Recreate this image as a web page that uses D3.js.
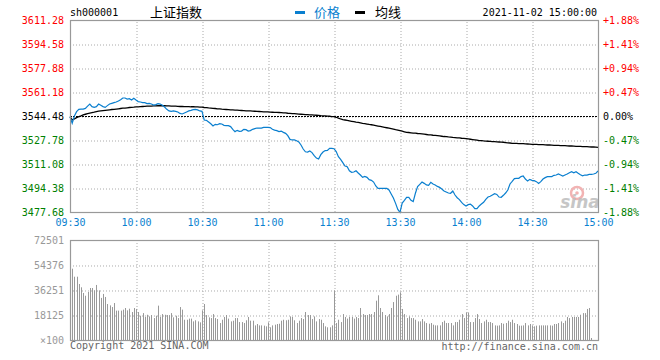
<!DOCTYPE html>
<html><head><meta charset="utf-8">
<script src="https://cdn.jsdelivr.net/npm/d3@7/dist/d3.min.js"></script>
<style>
html,body{margin:0;padding:0;background:#fff;}
svg{display:block;}
text{font-family:"DejaVu Sans Mono","Liberation Mono",monospace;font-size:10px;}
</style></head>
<body>
<svg id="c" width="660" height="360"></svg>
<script>
// ---------- DATA ----------
const code = "sh000001";
const title = "上证指数";
const legendNames = ["价格", "均线"];
const stamp = "2021-11-02 15:00:00";
const prevClose = 3544.48;
const priceTicks = [3477.68, 3494.38, 3511.08, 3527.78, 3544.48, 3561.18, 3577.88, 3594.58, 3611.28];
const pctTicks = ["-1.88%", "-1.41%", "-0.94%", "-0.47%", "0.00%", "+0.47%", "+0.94%", "+1.41%", "+1.88%"];
const timeLabels = ["09:30", "10:00", "10:30", "11:00", "11:30", "13:30", "14:00", "14:30", "15:00"];
const timeIdx = [0, 30, 60, 90, 120, 150, 180, 210, 240];
const volTicks = [0, 18125, 36251, 54376, 72501];
const volTickLabels = ["×100", "18125", "36251", "54376", "72501"];

// price per minute, 09:30 .. 11:30 (121 points)
const priceAM = [
3544.0,3539.4,3544.5,3547.5,3549.1,3549.3,3549.3,3549.8,3551.4,3552.8,
3551.0,3550.5,3551.0,3552.8,3551.9,3551.0,3550.5,3551.7,3552.8,3553.3,
3553.8,3554.2,3554.9,3555.8,3557.0,3557.0,3556.3,3556.5,3555.6,3556.8,
3555.6,3554.5,3554.2,3553.8,3553.8,3553.1,3553.3,3552.8,3552.1,3552.4,
3553.1,3552.8,3551.9,3550.7,3549.1,3548.0,3547.7,3548.0,3547.7,3547.3,
3546.3,3545.9,3546.6,3547.3,3548.0,3548.4,3548.9,3549.1,3548.7,3548.0,
3547.7,3541.7,3541.5,3540.3,3539.1,3537.5,3538.7,3538.4,3539.1,3538.9,
3538.0,3537.8,3537.8,3537.1,3535.2,3533.6,3534.5,3533.8,3534.0,3535.2,
3535.0,3534.0,3534.3,3535.2,3535.7,3536.1,3536.1,3536.1,3536.6,3536.6,
3536.6,3536.4,3535.2,3534.7,3534.3,3533.6,3534.0,3533.1,3532.4,3530.8,
3528.2,3527.8,3527.8,3527.3,3526.4,3524.3,3521.5,3519.6,3519.4,3520.1,
3519.0,3516.9,3515.2,3514.6,3517.6,3519.4,3520.4,3520.6,3522.0,3522.0,
3521.7];
// price per minute, 13:01 .. 15:00 (120 points)
const pricePM = [
3519.7,3516.2,3514.3,3512.0,3509.7,3509.2,3506.4,3505.3,3505.5,3506.4,
3504.8,3503.4,3501.8,3502.5,3501.8,3500.2,3499.7,3498.5,3495.8,3494.1,
3494.1,3494.1,3494.1,3494.1,3493.0,3490.2,3487.4,3483.7,3479.5,3477.4,
3483.9,3485.8,3487.9,3487.9,3485.8,3484.9,3490.7,3495.3,3496.9,3498.5,
3497.6,3496.5,3496.3,3498.3,3497.2,3496.5,3495.5,3494.8,3493.7,3492.3,
3491.6,3490.9,3490.7,3492.3,3489.5,3487.6,3486.3,3484.4,3482.8,3481.9,
3482.8,3483.2,3481.9,3480.0,3480.0,3481.9,3483.2,3484.4,3486.5,3488.1,
3488.6,3489.5,3490.4,3489.9,3488.1,3487.9,3489.3,3490.9,3493.0,3497.2,
3499.0,3500.9,3501.1,3501.1,3502.3,3502.7,3500.6,3499.2,3500.4,3499.7,
3499.5,3498.8,3497.6,3498.8,3500.6,3501.6,3502.3,3502.3,3502.3,3503.2,
3503.4,3504.1,3503.4,3502.7,3503.4,3504.1,3505.0,3505.7,3505.0,3505.7,
3504.6,3503.6,3502.9,3503.4,3503.4,3503.9,3503.9,3504.1,3504.6,3506.2];

// average price per minute
const avgAM = [
3544.0,3541.8,3542.5,3543.3,3544.0,3544.6,3545.3,3545.7,3546.1,3546.5,
3546.8,3547.1,3547.5,3547.8,3548.0,3548.2,3548.4,3548.6,3548.8,3549.0,
3549.1,3549.3,3549.5,3549.7,3549.9,3550.0,3550.2,3550.4,3550.5,3550.6,
3550.8,3550.9,3551.0,3551.1,3551.2,3551.3,3551.4,3551.4,3551.5,3551.5,
3551.6,3551.6,3551.6,3551.6,3551.5,3551.5,3551.4,3551.4,3551.3,3551.2,
3551.1,3551.1,3551.0,3551.0,3551.0,3550.9,3550.9,3550.8,3550.8,3550.7,
3550.6,3550.4,3550.3,3550.1,3550.0,3549.8,3549.7,3549.5,3549.4,3549.2,
3549.1,3549.0,3548.9,3548.8,3548.7,3548.6,3548.5,3548.4,3548.3,3548.2,
3548.1,3548.0,3548.0,3547.9,3547.8,3547.7,3547.6,3547.5,3547.4,3547.3,
3547.3,3547.2,3547.1,3547.0,3547.0,3546.9,3546.8,3546.7,3546.6,3546.4,
3546.3,3546.2,3546.1,3546.0,3545.8,3545.7,3545.6,3545.5,3545.4,3545.3,
3545.2,3545.1,3545.0,3544.9,3544.7,3544.6,3544.5,3544.4,3544.3,3544.1,
3544.0];
const avgPM = [
3543.6,3543.0,3542.4,3542.0,3541.7,3541.4,3541.1,3540.8,3540.5,3540.2,
3540.0,3539.7,3539.4,3539.2,3538.9,3538.6,3538.4,3538.1,3537.8,3537.5,
3537.2,3536.9,3536.6,3536.3,3536.0,3535.7,3535.4,3535.0,3534.7,3534.3,
3533.9,3533.5,3533.1,3533.0,3532.8,3532.6,3532.5,3532.3,3532.2,3532.0,
3531.8,3531.6,3531.4,3531.3,3531.1,3531.0,3530.8,3530.6,3530.4,3530.2,
3530.1,3529.9,3529.8,3529.6,3529.5,3529.3,3529.2,3529.0,3528.9,3528.7,
3528.5,3528.3,3528.1,3527.9,3527.7,3527.4,3527.3,3527.1,3527.0,3526.9,
3526.8,3526.7,3526.6,3526.5,3526.4,3526.3,3526.2,3526.0,3525.8,3525.7,
3525.5,3525.5,3525.4,3525.3,3525.3,3525.2,3525.1,3525.0,3524.9,3524.8,
3524.8,3524.7,3524.6,3524.5,3524.5,3524.4,3524.3,3524.3,3524.2,3524.1,
3524.0,3524.0,3523.9,3523.8,3523.8,3523.7,3523.6,3523.6,3523.5,3523.4,
3523.4,3523.3,3523.2,3523.2,3523.1,3523.0,3522.9,3522.9,3522.8,3522.7];

// volume per minute (x100)
const volAM = [
72501,51700,45900,45900,40600,38200,34100,32100,34800,37700,
37700,36000,39900,36000,30500,33400,31200,26100,25100,23900,
26800,21300,21300,21300,22000,23200,21500,22700,20300,23200,
22500,20300,17600,19500,16700,18300,17100,18100,15900,17600,
24900,16700,18800,18300,18100,18000,19500,16400,17600,15900,
23900,22000,14700,14700,15500,15500,13500,14300,13500,12800,
21500,26100,18100,16400,15900,18800,15900,15200,12300,14700,
16700,18100,15500,13500,14000,15900,15900,13000,13000,12300,
14300,16700,14000,14000,10600,11600,10600,10600,10400,9900,
12800,9200,10600,11100,11600,11800,14000,14700,14300,14700,
17100,16700,14300,12300,14000,15900,15200,20300,18100,18100,
15200,17100,13500,15200,14700,12300,9900,9200,9200,10600,
36000];
const volPM = [
12300,14700,13000,18800,16700,15500,16700,16700,15500,16700,
15900,23200,18800,18100,18100,18800,18800,20300,28500,32400,
23200,20300,18100,17100,18800,23200,27500,32100,32900,34600,
22500,18800,15900,17100,15900,15900,14700,13500,13500,15200,
13500,12300,11800,12300,11100,10600,10600,10600,13000,14000,
12300,12300,12300,10600,13000,13000,14700,18800,15900,20000,
20000,13000,13000,15900,18800,15200,12300,13500,14700,13000,
13000,12300,10600,10400,10600,12300,11800,12300,14000,13000,
14700,12300,11600,10400,10400,10600,12300,10600,11600,10600,
9900,10400,10600,10600,10600,10600,10600,10600,10400,11600,
11600,12300,13500,12300,14000,16700,15900,16700,16700,16700,
16700,18300,19500,19500,22500,23200,1450,0,0,0];

// ---------- DRAW ----------
const price = priceAM.concat(pricePM);
const avg = avgAM.concat(avgPM);
const vol = volAM.concat(volPM);
const idx = d3.range(price.length);

const L = 70, R = 598, T = 20, B = 212, VT = 240, VB = 340;
const svg = d3.select("#c");
const x = d3.scaleLinear().domain([0, 240]).range([L, R]);
const y = d3.scaleLinear().domain([priceTicks[0], priceTicks[priceTicks.length - 1]]).range([B, T]);
const yv = d3.scaleLinear().domain([0, volTicks[volTicks.length - 1]]).range([VB, VT]);

const gridCol = "#aaaaaa", borderCol = "#999999";
const blue = "#0a7fcf";
const crisp = v => Math.round(v) + 0.5;

function labelColor(v) {
  if (Math.abs(v - prevClose) < 0.01) return "#000";
  return v > prevClose ? "#ff0000" : "#008000";
}

// grid lines – main
const gMain = svg.append("g");
gMain.append("g").attr("transform", `translate(${L},0)`)
  .call(d3.axisLeft(y).tickValues(priceTicks.slice(1, -1)).tickSize(-(R - L)).tickFormat(""))
  .call(g => g.select(".domain").remove())
  .call(g => g.selectAll("line").attr("stroke", gridCol).attr("stroke-dasharray", "1,2")
     .attr("transform", "translate(0,0.5)"));
gMain.append("g").attr("transform", `translate(0,${B})`)
  .call(d3.axisBottom(x).tickValues(timeIdx.slice(1, -1)).tickSize(-(B - T)).tickFormat(""))
  .call(g => g.select(".domain").remove())
  .call(g => g.selectAll("line").attr("stroke", gridCol).attr("stroke-dasharray", "1,2")
     .attr("transform", "translate(0.5,0)"));

// grid lines – volume
const gVol = svg.append("g");
gVol.append("g").attr("transform", `translate(${L},0)`)
  .call(d3.axisLeft(yv).tickValues(volTicks.slice(1, -1)).tickSize(-(R - L)).tickFormat(""))
  .call(g => g.select(".domain").remove())
  .call(g => g.selectAll("line").attr("stroke", gridCol).attr("stroke-dasharray", "1,2")
     .attr("transform", "translate(0,0.5)"));
gVol.append("g").attr("transform", `translate(0,${VB})`)
  .call(d3.axisBottom(x).tickValues(timeIdx.slice(1, -1)).tickSize(-(VB - VT)).tickFormat(""))
  .call(g => g.select(".domain").remove())
  .call(g => g.selectAll("line").attr("stroke", gridCol).attr("stroke-dasharray", "1,2")
     .attr("transform", "translate(0.5,0)"));

// volume bars
svg.append("g").selectAll("line").data(idx.filter(i => vol[i] > 0)).join("line")
  .attr("x1", i => crisp(x(i))).attr("x2", i => crisp(x(i)))
  .attr("y1", yv(0)).attr("y2", i => yv(vol[i]))
  .attr("stroke", "#999").attr("stroke-width", 1);

// sina watermark
const wm = svg.append("g");
wm.append("circle").attr("cx", 577).attr("cy", 193).attr("r", 6)
  .attr("fill", "none").attr("stroke", "#f2b3b3").attr("stroke-width", 2.5);
wm.append("circle").attr("cx", 577).attr("cy", 193).attr("r", 1.8).attr("fill", "#f2b3b3");
wm.append("text").attr("x", 580).attr("y", 208).attr("text-anchor", "middle")
  .style("font-family", "'DejaVu Sans', sans-serif").style("font-size", "17px")
  .style("font-style", "italic").style("font-weight", "bold")
  .attr("fill", "#bdbdbd").attr("opacity", 0.85).text("sina");

// prev close dashed line
svg.append("line").attr("x1", L).attr("x2", R)
  .attr("y1", crisp(y(prevClose))).attr("y2", crisp(y(prevClose)))
  .attr("stroke", "#000").attr("stroke-dasharray", "2,1");

// lines
svg.append("path").datum(idx)
  .attr("d", d3.line().x(i => x(i)).y(i => y(avg[i])))
  .attr("fill", "none").attr("stroke", "#000").attr("stroke-width", 1.3);
svg.append("path").datum(idx)
  .attr("d", d3.line().x(i => x(i)).y(i => y(price[i])))
  .attr("fill", "none").attr("stroke", blue).attr("stroke-width", 1.2);

// borders
[[T, B], [VT, VB]].forEach(([t, b]) => {
  svg.append("rect").attr("x", L + 0.5).attr("y", t + 0.5).attr("width", R - L).attr("height", b - t)
    .attr("fill", "none").attr("stroke", borderCol).attr("stroke-width", 1.2);
});

// left price axis labels
svg.append("g").attr("transform", `translate(${L - 6},0)`)
  .call(d3.axisLeft(y).tickValues(priceTicks).tickSize(0).tickPadding(0).tickFormat(d3.format(".2f")))
  .call(g => g.select(".domain").remove())
  .call(g => g.selectAll("text").attr("fill", d => labelColor(d))
    .style("font-size", "10px").attr("dy", "0.35em"));

// right percent axis labels
svg.append("g").attr("transform", `translate(${R + 5},0)`)
  .call(d3.axisRight(y).tickValues(priceTicks).tickSize(0).tickPadding(0)
     .tickFormat((d, i) => pctTicks[i]))
  .call(g => g.select(".domain").remove())
  .call(g => g.selectAll("text").attr("fill", d => labelColor(d))
    .style("font-size", "10px").attr("dy", "0.35em"));

// time axis labels
svg.append("g").attr("transform", `translate(0,${B + 7})`)
  .call(d3.axisBottom(x).tickValues(timeIdx).tickSize(0).tickPadding(0)
     .tickFormat((d, i) => timeLabels[i]))
  .call(g => g.select(".domain").remove())
  .call(g => g.selectAll("text").attr("fill", blue).style("font-size", "10px"));

// volume axis labels
svg.append("g").attr("transform", `translate(${L - 6},0)`)
  .call(d3.axisLeft(yv).tickValues(volTicks).tickSize(0).tickPadding(0)
     .tickFormat((d, i) => volTickLabels[i]))
  .call(g => g.select(".domain").remove())
  .call(g => g.selectAll("text").attr("fill", "#999").style("font-size", "10px").attr("dy", "0.35em"));

// header
svg.append("text").attr("x", 70).attr("y", 16).attr("fill", "#000").text(code);
svg.append("text").attr("x", 150).attr("y", 17).attr("fill", "#000")
  .style("font-family", "'Noto Sans CJK SC', sans-serif").style("font-size", "13px").text(title);
svg.append("rect").attr("x", 295).attr("y", 11).attr("width", 10).attr("height", 3).attr("fill", blue);
svg.append("text").attr("x", 314).attr("y", 17).attr("fill", blue)
  .style("font-family", "'Noto Sans CJK SC', sans-serif").style("font-size", "13px").text(legendNames[0]);
svg.append("rect").attr("x", 355).attr("y", 11).attr("width", 10).attr("height", 3).attr("fill", "#000");
svg.append("text").attr("x", 375).attr("y", 17).attr("fill", "#000")
  .style("font-family", "'Noto Sans CJK SC', sans-serif").style("font-size", "13px").text(legendNames[1]);
svg.append("text").attr("x", 597).attr("y", 16).attr("text-anchor", "end").attr("fill", "#000").text(stamp);

// footer
svg.append("text").attr("x", 70).attr("y", 349).attr("fill", "#666").text("Copyright 2021 SINA.COM");
svg.append("text").attr("x", 598).attr("y", 350).attr("text-anchor", "end").attr("fill", "#666").text("http://finance.sina.com.cn");
</script>
</body></html>
